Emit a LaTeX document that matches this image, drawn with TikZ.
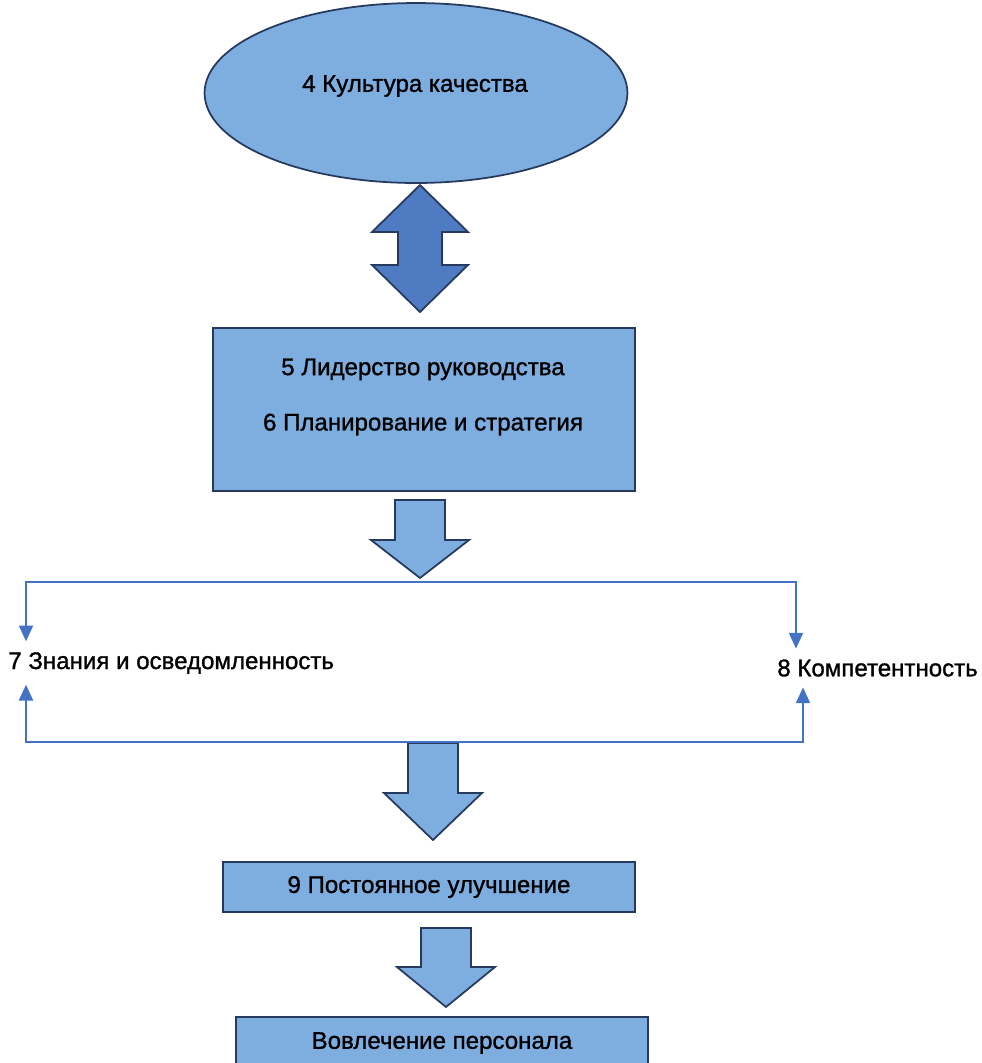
\documentclass[tikz,border=0pt]{standalone}
\usepackage{fontspec}
\setmainfont{Liberation Sans}[FakeBold=1.2]
\usepackage{tikz}
\usetikzlibrary{shapes.geometric,arrows.meta}
\definecolor{boxblue}{RGB}{126,174,224}
\definecolor{darkblue}{RGB}{79,123,194}
\definecolor{edgeblue}{RGB}{38,58,94}
\definecolor{lineblue}{RGB}{68,114,196}
\tikzset{
	block/.style={draw=edgeblue,line width=1pt,fill=boxblue,inner sep=0pt,font=\fontsize{13.7}{16.5}\selectfont},
	blockarrow/.style={draw=edgeblue,line width=1pt,fill=boxblue,line join=miter},
	label/.style={inner xsep=0pt,inner ysep=6pt,font=\fontsize{13.7}{16.5}\selectfont},
	link/.style={draw=lineblue,line width=1.1pt,-{Triangle[length=9pt,width=8pt]}}
}

\begin{document}
\begin{tikzpicture}[x=0.02cm,y=-0.02cm]
	\useasboundingbox (0,0) rectangle (982,1063);
	\node[block,ellipse,minimum width=8.46cm,minimum height=3.6cm] (culture) at (416,93) {};
	\node[label] (culturetext) at (415,86) {4 Культура качества};
	\draw[blockarrow,fill=darkblue] (420,185) -- (468,232) -- (442,232) -- (442,265)
		-- (468,265) -- (420,312) -- (372,265) -- (398,265) -- (398,232) -- (372,232) -- cycle;
	\node[block,minimum width=8.44cm,minimum height=3.26cm] (lead) at (424,409.5) {};
	\node[label,align=center] (leadtext) at (423,397) {5 Лидерство руководства\\[15pt] 6 Планирование и стратегия};
	\foreach \cx/\ya/\yb/\yc in {420/500/540/578, 433/743/793/840, 446/928/967/1007}{
		\draw[blockarrow] (\cx-25,\ya) -- (\cx+25,\ya) -- (\cx+25,\yb) -- (\cx+49,\yb)
			-- (\cx,\yc) -- (\cx-49,\yb) -- (\cx-25,\yb) -- cycle;
	}
	\node[label,anchor=west] (know) at (8,663) {7 Знания и осведомленность};
	\node[label,anchor=west] (comp) at (777,668) {8 Компетентность};
	\coordinate (topL) at (26,582);
	\coordinate (topR) at (796,582);
	\coordinate (botL) at (26,742);
	\coordinate (botR) at (803,742);
	\draw[link] (topR) -- (topL) -- (topL |- know.north);
	\draw[link] (topL) -- (topR) -- (topR |- comp.north);
	\draw[link] (botR) -- (botL) -- (botL |- know.south);
	\draw[link] (botL) -- (botR) -- (botR |- comp.south);
	\node[block,minimum width=8.24cm,minimum height=1cm] (improve) at (429,887) {9 Постоянное улучшение};
	\node[block,minimum width=8.24cm,minimum height=1.04cm] (staff) at (442,1043) {Вовлечение персонала};
\end{tikzpicture}
\end{document}
